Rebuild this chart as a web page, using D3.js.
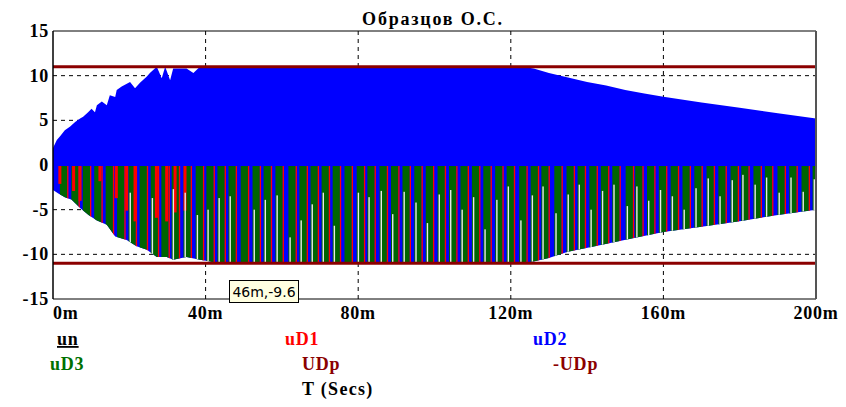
<!DOCTYPE html>
<html>
<head>
<meta charset="utf-8">
<script src="https://cdn.jsdelivr.net/npm/d3@7"></script>
<style>
  body { margin: 0; background: #fff; }
  .lbl { font-family: "Liberation Serif", "Times New Roman", serif; font-weight: bold; font-size: 18px; letter-spacing: 0.8px; }
</style>
</head>
<body>
<svg id="chart" width="846" height="407"></svg>
<script>
(function () {
    var width = 846, height = 407
    var left = 53, right = 816, top = 31, bottom = 299

    // upper envelope of uD2 (ms, V)
    var upT = [0, 1, 1.8, 3.1, 4.5, 5.8, 7.1, 7.9, 9.2, 10.1, 11, 11.5, 12.8, 14.1, 14.9, 16.3, 16.7, 18, 20.2, 21.5, 22.8, 24.6, 25.4, 27.2, 28.5, 29.4, 30.7, 31.5, 35, 36.8, 38.5, 123, 126, 130, 135, 140, 145, 150, 155, 160, 170, 180, 190, 200]
    var upV = [1.9, 2.8, 3.2, 3.9, 4.3, 4.8, 5.2, 5.4, 5.9, 6.3, 5.9, 6.7, 7.1, 6.7, 7.8, 7.6, 8.4, 8.8, 9.3, 8.6, 9.2, 9.9, 10.3, 11, 9.7, 11, 9.5, 10.8, 10.8, 10.3, 11, 11, 10.8, 10.3, 9.8, 9.3, 8.9, 8.4, 8.0, 7.65, 7.0, 6.4, 5.8, 5.2]
    // lower envelope of uD1 / uD3 (ms, V)
    var loT = [0, 1.4, 3.1, 4.9, 7.1, 9.3, 11.5, 14.1, 16.3, 19.3, 21.9, 24.6, 27.2, 29.8, 31.5, 35, 38.5, 41.2, 43, 123, 126, 130, 135, 143, 152, 160, 170, 180, 190, 200]
    var loV = [-2.8, -3.2, -3.6, -3.9, -4.8, -5.6, -6.2, -6.7, -8.0, -8.4, -9.1, -9.5, -10.3, -10.3, -10.6, -10.3, -10.6, -10.8, -11, -11, -10.8, -10.4, -9.7, -9.0, -8.2, -7.5, -6.9, -6.3, -5.6, -5.0]

    // conduction pulses (ms)
    var spikeT = [2.2, 5.2, 8.2, 11.2, 14.2, 17.2, 20.2, 23.1, 26, 28.8, 31.5, 34.6, 37.8, 40.6, 43.5, 46.4, 49.6, 52.7, 55.6, 58.7, 62.1, 65, 67.9, 70.8, 73.7, 76.8, 80, 82.8, 86, 89, 92, 95.1, 98.1, 101.2, 104.2, 107.2, 110.2, 113.2, 116.3, 119.3, 122.6, 125.6, 128.4, 131.8, 135, 137.9, 141, 144, 147, 150.5, 153, 156.1, 159.2, 162.3, 165.4, 168.5, 171.7, 174.8, 178, 180.8, 184, 187, 190.3, 193.4, 196.6, 199.5]
    // top of the white gap inside each pulse (V), null = none
    var gapTop = [null, null, null, null, null, null, -3.1, null, -3.7, null, -2.7, -3.1, -5.6, -5.0, -3.7, -3.5, null, -5.0, -3.9, -3.4, -8.1, -6.2, -4.4, -3.1, -6.8, null, -3.1, -3.6, -2.9, -5.5, -3.0, -4.2, -6.5, -3.3, -2.8, -5.0, -3.6, -7.2, -3.9, -2.4, -6.2, -3.4, -2.4, -5.4, -3.3, -2.2, -5.0, -2.9, -2.2, -4.6, -2.4, -4.0, -2.8, -3.5, -5.0, -2.6, -1.5, -3.5, -1.7, -1.1, -2.2, -1.4, -3.1, -1.4, -3.0, -1.6]

    // extra uD1 streaks during start-up (ms, V)
    var redT = [1.8, 5.4, 7.1, 12.3, 16.6, 19.3, 21.5, 27.1, 29.8, 32, 34.6]
    var redBot = [-2.0, -2.8, -3.9, -1.7, -3.6, -5.0, -6.2, -5.8, -6.2, -5.2, -5.0]

    var UDp = 11
    var xTicks = [0, 40, 80, 120, 160, 200]
    var yTicks = [15, 10, 5, 0, -5, -10, -15]
    var title = "Образцов О.С."

    var x = d3.scaleLinear().domain([0, 200]).range([left, right])
    var y = d3.scaleLinear().domain([-15, 15]).range([bottom, top])

    var svg = d3.select("#chart")

    // grid
    var grid = svg.append("g").attr("stroke", "#000").attr("stroke-dasharray", "4,4").attr("stroke-width", 1)
    grid.selectAll(".vx").data(xTicks.slice(1, -1)).join("line")
        .attr("x1", d => x(d)).attr("x2", d => x(d)).attr("y1", top).attr("y2", bottom)
    grid.selectAll(".hy").data(yTicks.slice(1, -1)).join("line")
        .attr("x1", left).attr("x2", right).attr("y1", d => y(d)).attr("y2", d => y(d))

    // envelope polygon
    var upPts = upT.map((t, i) => [t, upV[i]])
    var loPts = loT.map((t, i) => [t, loV[i]]).reverse()
    var env = d3.line().x(d => x(d[0])).y(d => y(d[1]))(upPts.concat(loPts)) + "Z"

    svg.append("clipPath").attr("id", "envclip").append("path").attr("d", env)

    svg.append("path").attr("d", env).attr("fill", "#0000ff")

    var bars = svg.append("g").attr("clip-path", "url(#envclip)")
    bars.selectAll(".g").data(spikeT).join("rect")
        .attr("x", d => x(d - 0.4)).attr("width", d => x(d + 1.5) - x(d - 0.4))
        .attr("y", y(0) + 1).attr("height", y(-UDp) - y(0))
        .attr("fill", "#006400")
    bars.selectAll(".r").data(spikeT).join("rect")
        .attr("x", d => x(d + 1.5)).attr("width", 1.3)
        .attr("y", y(0) + 1).attr("height", y(-UDp) - y(0))
        .attr("fill", "#ff0000")
    bars.selectAll(".er").data(redT.map((t, i) => [t, redBot[i]])).join("rect")
        .attr("x", d => x(d[0]) - 1.5).attr("width", 3)
        .attr("y", y(0) + 1).attr("height", d => y(d[1]) - y(0))
        .attr("fill", "#ff0000")
    bars.selectAll(".w").data(spikeT.map((t, i) => [t, gapTop[i]]).filter(d => d[1] !== null)).join("rect")
        .attr("x", d => x(d[0]) - 0.5).attr("width", 1.4)
        .attr("y", d => y(d[1])).attr("height", d => y(-UDp) - y(d[1]))
        .attr("fill", "#e8e8e8")

    // UDp / -UDp
    svg.selectAll(".udp").data([UDp, -UDp]).join("line")
        .attr("x1", left).attr("x2", right).attr("y1", d => y(d)).attr("y2", d => y(d))
        .attr("stroke", "#8b0000").attr("stroke-width", 3)

    // frame
    svg.append("line").attr("x1", left).attr("x2", right).attr("y1", top).attr("y2", top).attr("stroke", "#000")
    svg.append("line").attr("x1", left).attr("x2", right).attr("y1", bottom).attr("y2", bottom).attr("stroke", "#000")
    svg.append("line").attr("x1", left).attr("x2", left).attr("y1", top).attr("y2", bottom).attr("stroke", "#000").attr("stroke-width", 1.5)
    svg.append("line").attr("x1", right).attr("x2", right).attr("y1", top).attr("y2", bottom).attr("stroke", "#555").attr("stroke-width", 2)

    // tick labels
    svg.selectAll(".yl").data(yTicks).join("text").attr("class", "lbl")
        .attr("x", left - 4).attr("y", d => y(d) + 6).attr("text-anchor", "end")
        .text(d => d)
    svg.selectAll(".xl").data(xTicks).join("text").attr("class", "lbl")
        .attr("x", d => x(d)).attr("y", 319)
        .attr("text-anchor", d => d === 0 ? "start" : "middle")
        .text(d => d + "m")

    svg.append("text").attr("class", "lbl").attr("x", 433).attr("y", 25)
        .attr("text-anchor", "middle").style("letter-spacing", "1.8px").text(title)

    // legend
    var legend = [
        { name: "un", color: "#000", x: 57, y: 345, u: true },
        { name: "uD1", color: "#ff0000", x: 285, y: 345 },
        { name: "uD2", color: "#0000ff", x: 533, y: 345 },
        { name: "uD3", color: "#007000", x: 50, y: 370 },
        { name: "UDp", color: "#8b0000", x: 302, y: 370 },
        { name: "-UDp", color: "#8b0000", x: 553, y: 370 }
    ]
    svg.selectAll(".lg").data(legend).join("text").attr("class", "lbl")
        .attr("x", d => d.x).attr("y", d => d.y).attr("fill", d => d.color)
        .attr("text-decoration", d => d.u ? "underline" : null)
        .text(d => d.name)
    svg.append("text").attr("class", "lbl").attr("x", 302).attr("y", 395).style("letter-spacing", "1.3px").text("T (Secs)")

    // cursor tooltip
    var tip = svg.append("g")
    tip.append("rect").attr("x", 229.5).attr("y", 280.5).attr("width", 69).attr("height", 22)
        .attr("fill", "#ffffe1").attr("stroke", "#000")
    tip.append("text").attr("x", 264).attr("y", 297).attr("text-anchor", "middle")
        .style("font-family", "DejaVu Sans, sans-serif").style("font-size", "14px")
        .text("46m,-9.6")
})();
</script>
</body>
</html>
